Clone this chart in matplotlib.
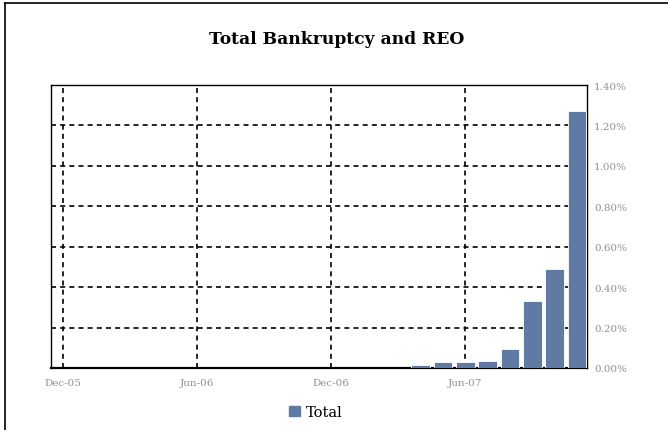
import matplotlib
matplotlib.use("Agg")
import matplotlib.pyplot as plt
from matplotlib.patches import Patch
from matplotlib.lines import Line2D

months = ["Dec-05", "Jan-06", "Feb-06", "Mar-06", "Apr-06", "May-06", "Jun-06",
          "Jul-06", "Aug-06", "Sep-06", "Oct-06", "Nov-06", "Dec-06",
          "Jan-07", "Feb-07", "Mar-07", "Apr-07", "May-07", "Jun-07",
          "Jul-07", "Aug-07", "Sep-07", "Oct-07", "Nov-07"]
values = [0, 0, 0, 0, 0, 0, 0, 0, 0, 0, 0, 0, 0, 0, 0, 0,
          0.016, 0.028, 0.028, 0.035, 0.093, 0.33, 0.49, 1.27]
tick_labels = ["Dec-05", "Jun-06", "Dec-06", "Jun-07"]
y_ticks = [0.0, 0.2, 0.4, 0.6, 0.8, 1.0, 1.2, 1.4]

W, H = 668, 431
fig = plt.figure(figsize=(W / 100, H / 100), dpi=100)
serif = ["DejaVu Serif"]

# outer frame
fig.add_artist(Line2D([5 / W, 5 / W], [0, 1 - 4 / H], color="black", lw=1.2, transform=fig.transFigure))
fig.add_artist(Line2D([5 / W, 1], [1 - 4 / H, 1 - 4 / H], color="black", lw=1.2, transform=fig.transFigure))

L, R, T, B = 51, 587, 86, 369
ax = fig.add_axes([L / W, (H - B) / H, (R - L) / W, (B - T) / H])
x = list(range(len(months)))
ax.bar(x, values, width=0.83, color="#5f7aa3", edgecolor="white", linewidth=0.6, zorder=3, label="Total")
ax.set_xlim(-0.54, 23.45)
ax.set_ylim(0, 1.4)

tick_pos = [months.index(t) for t in tick_labels]
ax.set_xticks(tick_pos)
ax.set_xticklabels(tick_labels, fontfamily=serif, fontsize=7.5, color="#909090")
ax.set_yticks(y_ticks)
ax.set_yticklabels(["%.2f%%" % v for v in y_ticks], fontfamily=serif, fontsize=7.5, color="#909090")
ax.yaxis.tick_right()
ax.tick_params(axis="x", length=0, pad=7)
ax.tick_params(axis="y", length=0, pad=5)

for p in tick_pos:
    ax.axvline(p, color="black", lw=1.2, linestyle=(0, (3, 2.5)), zorder=1)
for v in y_ticks[1:-1]:
    ax.axhline(v, color="black", lw=1.2, linestyle=(0, (3, 2.5)), zorder=1)

for s in ["left", "top", "right"]:
    ax.spines[s].set_linewidth(1.0)
ax.spines["bottom"].set_linewidth(1.6)

fig.text(337 / W, 1 - 40 / H, "Total Bankruptcy and REO", ha="center", va="center",
         fontfamily=serif, fontweight="bold", fontsize=12.3)

fig.legend(handles=[Patch(facecolor="#5f7aa3", edgecolor="#5f7aa3")], labels=["Total"],
           loc="center", bbox_to_anchor=(316 / W, 1 - 413 / H), frameon=False,
           prop={"family": serif, "size": 10.5}, handlelength=0.75, handleheight=0.75, handletextpad=0.4)

fig.savefig("out.png", dpi=100)
